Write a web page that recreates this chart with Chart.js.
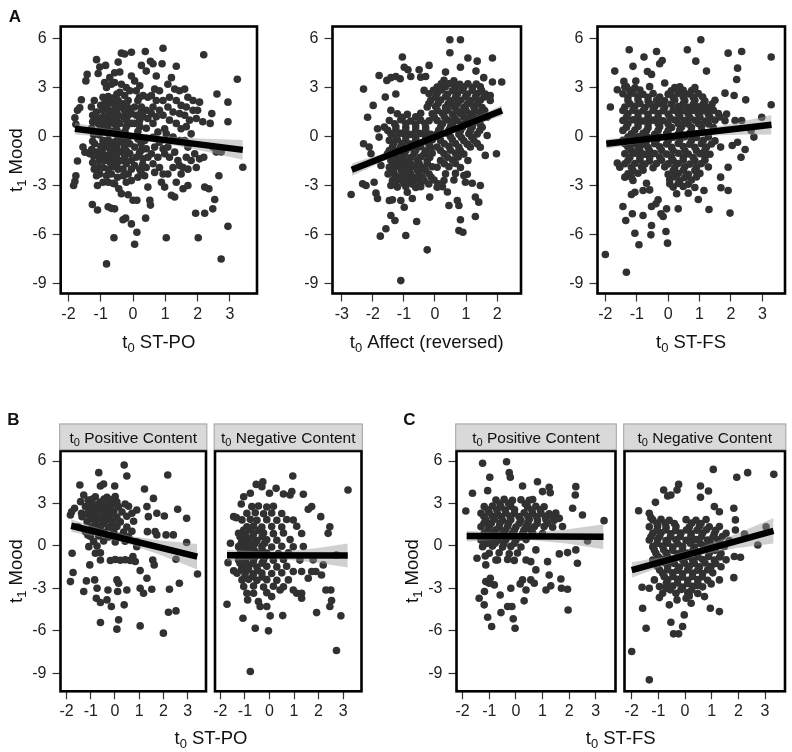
<!DOCTYPE html>
<html>
<head>
<meta charset="utf-8">
<title>t1 Mood by t0 predictors</title>
<script src="https://cdn.jsdelivr.net/npm/chart.js@4.4.1/dist/chart.umd.min.js"></script>
<style>
  html, body { margin: 0; padding: 0; background: #fff; }
  #fig { position: relative; width: 792px; height: 752px; overflow: hidden; background: #fff; }
  #fig canvas { position: absolute; }
</style>
</head>
<body>
<div id="fig"></div>
<script>
// tick labels
const ticksY = [-9, -6, -3, 0, 3, 6];
const ticksX = [-2, -1, 0, 1, 2, 3];
const ticksXAffect = [-3, -2, -1, 0, 1, 2];

// panel A, left: t0 ST-PO vs t1 Mood (all posts)
const stpoAll = [
  [-1.80,1.15],[-1.72,1.60],[-1.65,1.75],[-1.77,0.75],[-1.72,-1.50],[-1.77,-2.40],[-1.84,-3.00],[-1.80,-2.75],[-1.60,2.25],[-1.42,3.80],[-1.46,3.40],[-1.55,-0.65],[-1.49,-0.96],[-1.34,-1.06],
  [-1.13,4.70],[-1.03,4.25],[-1.08,3.85],[-1.20,2.20],[-1.29,1.80],[-1.13,1.50],[-1.19,1.10],[-1.08,0.80],[-1.03,0.40],[-1.19,-0.45],[-1.13,-0.95],[-1.03,-1.30],[-1.08,-1.90],[-1.03,-2.30],[-1.13,-2.40],[-1.10,-3.00],[-1.26,-4.16],[-1.10,-4.50],
  [-0.85,4.35],[-0.82,3.00],[-0.88,3.30],[-0.72,3.60],[-0.67,3.20],[-0.57,3.90],[-0.57,3.30],[-0.93,2.40],[-0.77,2.45],[-0.62,2.35],[-0.88,2.00],[-0.72,2.05],[-0.57,1.95],[-0.93,1.60],[-0.77,1.65],[-0.62,1.55],
  [-0.93,1.20],[-0.77,1.25],[-0.62,1.15],[-0.88,0.80],[-0.72,0.85],[-0.57,0.75],[-0.93,0.40],[-0.77,0.45],[-0.62,0.30],[-0.93,-0.25],[-0.77,-0.20],[-0.62,-0.35],[-0.88,-0.65],[-0.72,-0.75],[-0.57,-0.60],
  [-0.93,-1.06],[-0.77,-1.15],[-0.62,-1.00],[-0.88,-1.47],[-0.72,-1.57],[-0.57,-1.40],[-0.93,-1.90],[-0.77,-2.00],[-0.62,-1.85],[-0.82,-2.40],[-0.67,-2.30],[-0.77,-2.80],[-0.57,-2.90],[-0.93,-2.80],
  [-0.77,-4.30],[-0.67,-4.40],[-0.57,-4.43],[-0.59,-6.20],[-0.82,-7.80],[-0.62,-2.86],[-0.85,1.00],[-0.70,1.40],[-0.80,-0.50],[-0.65,-0.90],[-0.85,2.20],[-0.70,-1.30],[-1.00,1.90],[-1.00,-0.60],
  [-0.36,5.10],[-0.46,4.55],[-0.26,5.05],[-0.41,3.95],[-0.36,3.20],[-0.21,3.00],[-0.41,2.70],[-0.26,2.50],[-0.10,2.80],[-0.46,2.20],[-0.31,2.00],[-0.15,2.20],[-0.41,1.80],[-0.26,1.60],[-0.10,1.70],
  [-0.46,1.30],[-0.31,1.20],[-0.15,1.30],[-0.05,1.40],[-0.41,0.80],[-0.21,0.60],[-0.05,0.80],[-0.36,0.15],[-0.15,-0.05],[-0.41,-0.35],[-0.26,-0.65],[-0.10,-0.45],[-0.41,-0.95],[-0.26,-1.15],[-0.10,-1.05],
  [-0.36,-1.47],[-0.21,-1.67],[-0.05,-1.47],[-0.46,-2.00],[-0.31,-2.00],[-0.15,-2.30],[-0.05,-2.00],[-0.21,-2.80],[-0.05,-2.70],[-0.44,-3.20],[-0.36,-3.50],[-0.15,-3.57],[-0.23,-5.00],[-0.31,-5.10],
  [-0.05,-5.35],[0.00,-3.90],[0.05,-6.60],[0.12,-5.86],[-0.05,5.15],[-0.05,3.70],
  [0.38,5.20],[0.26,4.35],[0.41,4.00],[0.05,3.40],[0.21,3.10],[0.10,2.80],[0.31,2.50],[0.15,2.20],[0.46,2.40],[0.05,1.80],[0.26,1.80],[0.41,1.60],[0.10,1.30],[0.31,1.20],[0.46,1.10],[0.05,0.80],
  [0.21,0.60],[0.41,0.50],[0.15,-0.15],[0.36,-0.25],[0.05,-0.65],[0.26,-0.85],[0.41,-0.75],[0.10,-1.27],[0.31,-1.37],[0.46,-1.27],[0.05,-1.78],[0.21,-2.00],[0.41,-1.90],[0.15,-2.50],[0.36,-2.40],
  [0.12,-3.90],[0.39,-5.00],[0.52,-3.90],[0.54,-4.20],[0.46,-3.10],
  [0.54,4.60],[0.62,4.45],[0.72,3.70],[0.93,5.40],[0.90,4.45],[0.67,2.90],[0.82,2.80],[0.57,2.50],[0.72,2.20],[0.93,2.20],[0.62,1.80],[0.82,1.60],[0.57,1.40],[0.72,1.20],[0.93,1.30],[0.62,0.80],
  [0.98,0.47],[0.77,0.27],[0.62,-0.05],[0.82,-0.35],[0.67,-0.65],[0.93,-0.75],[0.57,-1.06],[0.77,-1.27],[0.98,-1.06],[0.62,-1.67],[0.82,-1.90],[0.67,-2.20],[0.93,-2.30],[0.88,-2.80],[0.98,-3.10],
  [1.34,4.30],[1.19,3.60],[1.08,3.20],[1.29,2.90],[1.44,2.80],[1.13,2.40],[1.34,2.20],[1.49,1.90],[1.08,1.80],[1.24,1.50],[1.44,1.40],[1.13,1.00],[1.34,0.80],[1.49,0.47],[1.03,0.16],[1.24,-0.04],
  [1.44,-0.25],[1.08,-0.65],[1.29,-0.96],[1.13,-1.27],[1.39,-1.47],[1.24,-1.90],[1.44,-1.78],[1.08,-2.30],[1.29,-3.70],[1.19,-3.60],[1.03,-6.20],[1.49,-2.30],[1.34,-2.80],
  [1.60,2.90],[1.70,2.40],[1.86,2.20],[1.65,1.80],[1.86,1.60],[1.60,1.30],[1.75,1.00],[1.96,1.10],[1.65,0.60],[1.80,0.16],[1.60,-0.25],[1.70,-0.65],[1.91,-1.06],[1.65,-1.27],[1.80,-1.47],
  [1.55,-1.90],[1.70,-2.00],[1.96,-1.90],[1.55,-3.20],[1.70,-3.00],[1.94,-4.70],
  [2.06,2.10],[2.00,1.60],[2.16,0.90],[2.39,0.80],[2.44,1.40],[2.60,2.60],[2.94,2.10],[2.94,0.90],[2.47,-0.65],[2.73,-0.95],[2.06,-1.37],[2.19,-1.27],[3.40,-1.88],[2.66,-2.40],[2.35,-3.20],
  [2.22,-3.10],[2.53,-3.86],[2.47,-4.43],[2.22,-4.70],[2.02,-6.20],[2.94,-5.50],[2.73,-7.50],[3.23,3.50],[2.19,5.00],[2.58,-0.95],
  [-1.25,1.30],[-1.25,0.90],[-1.28,0.50],[-1.22,0.10],[-1.25,-0.30],[-1.28,-0.80],[-1.22,-1.20],[-1.25,-1.60],[-1.20,-2.00],
  [-1.05,1.10],[-1.02,0.70],[-1.05,0.10],[-1.00,-1.00],[-1.05,-1.50],
  [-0.50,2.60],[-0.50,1.60],[-0.52,1.00],[-0.50,0.40],[-0.48,-0.20],[-0.50,-0.70],[-0.52,-1.20],[-0.50,-1.70],[-0.48,-2.50],
  [-0.20,1.95],[-0.20,1.00],[-0.25,0.30],[-0.30,-0.30],[-0.20,-0.90],[-0.25,-1.40],[-0.30,-2.40],
  [0.20,2.40],[0.25,1.50],[0.20,0.95],[0.15,0.30],[0.25,-0.45],[0.20,-1.00],[0.30,-1.70],[0.25,-2.20]
];

// panel A, middle: t0 Affect (reversed)
const affectAll = [
  [-2.70,-3.55],[-2.30,2.90],[-2.17,1.18],[-1.99,1.90],[-2.30,-0.45],[-2.33,-2.90],[-2.22,-3.00],[-1.96,-2.80],[-1.90,-3.47],[-1.85,-3.80],[-1.76,-6.10],[-1.58,-5.65],[-1.80,3.73],[-1.55,3.43],
  [-1.42,3.60],[-1.26,3.67],[-1.12,3.53],[-1.05,4.86],[-0.99,4.24],[-1.60,2.41],[-1.42,1.60],[-1.26,2.60],[-1.85,0.47],[-1.80,-0.04],[-2.06,-1.06],[-2.12,-0.65],[-1.74,-1.78],[-1.51,-2.29],
  [-1.42,-3.00],[-1.47,-3.92],[-1.37,-3.88],[-1.42,-4.84],[-1.29,-5.14],[-1.10,-3.92],[-0.99,-4.33],[-0.94,-6.06],[-1.10,-8.82],[-0.73,-3.80],[-0.59,-5.20],[-0.25,-6.94],[-0.17,-3.71],
  [-0.87,4.08],[-0.78,3.67],[-0.51,4.08],[-0.46,3.63],[-0.30,3.67],[-0.19,4.35],[-0.35,2.82],[0.48,5.92],[0.82,5.92],[0.48,5.12],[0.34,3.94],[0.82,4.24],[1.06,4.80],[1.36,4.61],[1.32,4.00],
  [1.85,4.80],[1.57,3.60],[1.85,3.33],[2.15,3.33],[1.78,2.51],[1.78,2.20],[1.68,1.18],[1.68,0.06],[1.62,-1.16],[1.98,-1.06],[1.06,-1.47],[1.46,-3.00],[1.20,-2.86],[0.93,-2.39],[0.98,-2.80],
  [0.45,-4.22],[0.72,-3.92],[0.77,-4.22],[0.82,-5.10],[0.77,-5.76],[0.90,-5.86],[1.30,-4.90],[1.30,-3.71],[1.41,-4.02],
  [-1.21,1.39],[-0.89,1.35],[-0.46,1.42],[-1.47,0.98],[-1.10,1.02],[-0.78,0.95],[-0.46,1.00],[-0.19,0.96],[-1.63,0.57],[-1.26,0.60],[-0.94,0.55],[-0.62,0.58],[-0.30,0.54],
  [-1.42,0.16],[-1.10,0.20],[-0.78,0.12],[-0.46,0.18],[-0.14,0.14],[-1.47,-0.24],[-1.21,-0.20],[-0.94,-0.27],[-0.62,-0.22],[-0.30,-0.26],[-0.09,-0.21],
  [-1.37,-0.65],[-1.10,-0.60],[-0.78,-0.68],[-0.46,-0.63],[-0.14,-0.66],[-1.53,-1.06],[-1.26,-1.02],[-0.99,-1.09],[-0.67,-1.04],[-0.35,-1.08],[-0.09,-1.03],
  [-1.42,-1.47],[-1.15,-1.43],[-0.89,-1.50],[-0.57,-1.45],[-0.25,-1.49],[-1.47,-1.88],[-1.21,-1.84],[-0.94,-1.91],[-0.67,-1.86],[-0.41,-1.90],[-0.09,-1.85],
  [-1.31,-2.29],[-1.05,-2.25],[-0.78,-2.32],[-0.51,-2.27],[-0.19,-2.30],[-1.37,-2.69],[-1.10,-2.65],[-0.83,-2.72],[-0.57,-2.67],[-0.35,-2.70],[-0.03,-2.66],
  [-1.21,-3.10],[-0.94,-3.06],[-0.62,-3.12],[-0.46,-3.08],[0.07,-3.11],[0.24,-3.07],[-0.89,-3.41],[0.40,-3.40],
  [0.29,3.43],[0.61,3.40],[0.07,3.02],[0.34,3.05],[0.66,2.99],[0.93,3.03],[1.20,3.00],[1.46,3.04],[-0.19,2.61],[0.07,2.64],[0.40,2.58],[0.72,2.62],[1.04,2.59],[1.36,2.63],[1.62,2.60],
  [-0.14,2.20],[0.18,2.23],[0.50,2.18],[0.82,2.22],[1.14,2.19],[1.46,2.21],[-0.25,1.80],[0.02,1.83],[0.34,1.78],[0.61,1.82],[0.93,1.79],[1.25,1.81],[1.52,1.77],
  [-0.09,1.39],[0.24,1.42],[0.56,1.37],[0.82,1.41],[1.14,1.38],[1.46,1.40],[0.07,0.98],[0.40,1.01],[0.72,0.96],[1.04,1.00],[1.36,0.97],
  [0.18,0.57],[0.50,0.60],[0.88,0.55],[1.20,0.58],[1.52,0.56],[0.07,0.16],[0.40,0.19],[0.77,0.14],[1.09,0.17],[1.36,0.15],[0.18,-0.24],[0.56,-0.21],[0.93,-0.26],[1.25,-0.23],
  [0.07,-0.65],[0.45,-0.62],[0.77,-0.67],[1.14,-0.64],[1.46,-0.66],[0.29,-1.06],[0.66,-1.03],[0.93,-1.08],[0.18,-1.47],[0.56,-1.44],[0.07,-1.88],[0.45,-1.85],[0.82,-1.90],
  [0.34,-2.29],[0.66,-2.26],[1.04,-2.31],[0.29,-2.69],[0.61,-2.66],
  [-1.05,1.18],[-0.62,1.20],[-1.30,0.78],[-0.94,0.80],[-0.62,0.76],[-0.32,0.79],[-1.52,0.37],[-1.26,0.39],[-0.94,0.35],[-0.62,0.38],[-0.30,0.36],
  [-1.26,-0.04],[-0.94,-0.02],[-0.62,-0.06],[-0.30,-0.03],[-1.34,-0.45],[-1.05,-0.43],[-0.78,-0.47],[-0.46,-0.44],[-0.20,-0.46],
  [-1.47,-0.86],[-1.21,-0.84],[-0.94,-0.88],[-0.62,-0.85],[-0.30,-0.87],[-1.30,-1.27],[-1.05,-1.25],[-0.78,-1.29],[-0.46,-1.26],[-0.17,-1.28],
  [-1.31,-1.67],[-1.05,-1.65],[-0.78,-1.69],[-0.51,-1.66],[-0.25,-1.68],[-1.34,-2.08],[-1.08,-2.06],[-0.83,-2.10],[-0.57,-2.07],[-0.30,-2.09],
  [-1.21,-2.49],[-0.94,-2.47],[-0.67,-2.51],[-0.41,-2.48],[-0.12,-2.50],[-1.26,-2.90],[-1.00,-2.88],[-0.72,-2.92],[-0.46,-2.89],[-0.20,-2.91],[0.10,-2.90],
  [0.20,3.22],[0.48,3.24],[0.80,3.20],[1.06,3.23],[1.33,3.21],[-0.05,2.82],[0.22,2.84],[0.56,2.80],[0.88,2.83],[1.20,2.81],[1.50,2.82],
  [0.02,2.41],[0.34,2.43],[0.66,2.39],[0.98,2.42],[1.30,2.40],[1.58,2.41],[-0.20,2.00],[0.10,2.02],[0.42,1.98],[0.72,2.01],[1.04,1.99],[1.36,2.00],
  [0.08,1.59],[0.40,1.61],[0.72,1.57],[1.00,1.60],[1.30,1.58],[1.60,1.59],[-0.02,1.18],[0.30,1.20],[0.62,1.16],[0.93,1.19],[1.25,1.17],[1.52,1.18],
  [0.24,0.78],[0.56,0.80],[0.88,0.76],[1.20,0.79],[1.45,0.77],[0.12,0.37],[0.45,0.39],[0.82,0.35],[1.14,0.38],[1.44,0.36],
  [0.12,-0.04],[0.50,-0.02],[0.85,-0.06],[1.18,-0.03],[0.30,-0.45],[0.66,-0.43],[1.04,-0.47],[1.36,-0.44],
  [0.18,-0.86],[0.50,-0.84],[0.82,-0.88],[0.40,-1.27],[0.75,-1.25],[0.30,-1.67],[0.66,-1.65]
];

// panel A, right: t0 ST-FS
const stfsAll = [
  [-2.00,-7.22],[-1.33,-8.31],[-1.84,1.80],[-1.70,4.00],[-1.62,2.86],[-1.24,5.31],[-1.12,4.29],[-0.77,4.86],[-0.37,5.20],[-0.66,3.98],[-0.53,3.80],[-0.27,4.45],[-0.19,4.65],[-0.11,3.27],
  [0.61,5.31],[0.88,4.61],[1.04,5.92],[1.22,4.00],[1.91,5.10],[2.34,5.20],[2.21,4.18],[2.18,3.49],[2.47,2.24],[2.10,2.51],[1.81,2.65],[3.28,4.86],[3.28,1.94],[2.98,1.18],[2.73,-0.04],
  [2.45,-0.80],[2.32,-1.27],[2.21,-0.35],[2.04,-0.55],[1.67,-0.65],[1.91,-1.88],[1.67,-2.49],[1.91,-3.31],[1.68,-3.14],[1.97,-4.69],[1.30,-4.47],[0.96,-3.86],[1.14,-3.31],[0.32,-4.43],
  [-0.02,-6.53],[-0.07,-5.82],[-0.16,-4.90],[-0.23,-4.73],[-0.05,-4.43],[-0.39,-4.12],[-0.32,-3.88],[-0.53,-5.45],[-0.55,-6.02],[-0.93,-6.63],[-1.06,-5.92],[-1.14,-4.73],[-1.44,-4.29],
  [-1.35,-5.14],[-0.80,-4.84],[-0.53,-4.29],[-0.69,-2.86],[-0.59,-3.27],[-0.80,-3.31],[-1.06,-3.41],[-1.17,-3.55],[-1.38,-2.49],[-1.62,-1.63],[-1.54,-1.88],[-1.41,3.37],[-1.33,3.06],[-1.03,3.39],
  [2.13,0.98],[2.64,0.37],[2.34,0.98],
  [-1.38,3.02],[-1.06,2.98],[-0.59,3.05],[0.21,3.00],[0.37,3.04],[0.85,2.99],
  [-1.44,2.61],[-1.12,2.65],[-0.80,2.58],[-0.48,2.63],[0.00,2.59],[0.32,2.64],[0.64,2.60],[0.96,2.62],
  [-1.28,2.20],[-0.96,2.24],[-0.64,2.17],[-0.37,2.22],[-0.11,2.18],[0.21,2.23],[0.53,2.19],[0.85,2.21],[1.17,2.17],[1.49,2.22],
  [-1.38,1.80],[-1.06,1.84],[-0.74,1.77],[-0.43,1.82],[-0.11,1.79],[0.32,1.83],[0.64,1.78],[0.96,1.81],[1.28,1.77],
  [-1.28,1.39],[-0.96,1.43],[-0.64,1.36],[-0.32,1.41],[0.00,1.37],[0.32,1.42],[0.64,1.38],[0.96,1.40],[1.28,1.36],[1.60,1.41],[1.86,1.37],
  [-1.44,0.98],[-1.12,1.02],[-0.80,0.95],[-0.48,1.00],[-0.16,0.96],[0.21,1.01],[0.53,0.97],[0.85,0.99],[1.17,0.95],[1.49,1.00],[1.81,0.96],
  [-1.33,0.57],[-0.96,0.61],[-0.64,0.54],[-0.27,0.59],[0.11,0.55],[0.43,0.60],[0.74,0.56],[1.06,0.58],[1.44,0.54],
  [-1.17,0.16],[-0.80,0.20],[-0.43,0.13],[-0.05,0.18],[0.32,0.14],[0.69,0.19],
  [-1.44,-0.24],[-1.06,-0.20],[-0.69,-0.27],[-0.37,-0.22],[0.00,-0.26],[0.37,-0.21],[0.74,-0.25],[1.12,-0.23],[1.49,-0.27],
  [-1.28,-0.65],[-0.96,-0.61],[-0.64,-0.68],[-0.27,-0.63],[0.11,-0.67],[0.48,-0.62],[0.85,-0.66],[1.22,-0.64],
  [-1.38,-1.06],[-1.06,-1.02],[-0.74,-1.09],[-0.43,-1.04],[-0.05,-1.08],[0.32,-1.03],[0.64,-1.07],[1.01,-1.05],[1.33,-1.09],
  [-1.28,-1.47],[-0.90,-1.43],[-0.59,-1.50],[-0.21,-1.45],[0.16,-1.49],[0.48,-1.44],[0.85,-1.48],[1.17,-1.46],
  [-1.17,-1.88],[-0.85,-1.84],[-0.48,-1.91],[-0.11,-1.86],[0.21,-1.90],[0.53,-1.85],[0.90,-1.89],[1.28,-1.87],
  [-1.28,-2.29],[-0.96,-2.25],[0.00,-2.32],[0.32,-2.27],[0.64,-2.31],[1.01,-2.26],
  [-1.12,-2.69],[0.05,-2.65],[0.37,-2.72],[0.74,-2.67],[0.16,-3.10],[0.48,-3.06],[0.85,-3.12],[0.27,-3.51],[0.64,-3.47],
  [-1.22,2.82],[-0.90,2.84],[0.10,2.80],[0.48,2.83],[0.75,2.81],
  [-1.28,2.41],[-0.96,2.43],[-0.64,2.39],[-0.27,2.42],[0.16,2.40],[0.48,2.42],[0.80,2.38],[1.10,2.41],
  [-1.22,2.00],[-0.90,2.02],[-0.58,1.98],[-0.27,2.01],[0.10,1.99],[0.48,2.01],[0.80,1.97],[1.12,2.00],[1.40,1.98],
  [-1.44,1.59],[-1.12,1.61],[-0.80,1.57],[-0.48,1.60],[-0.16,1.58],[0.16,1.61],[0.48,1.57],[0.80,1.60],[1.12,1.58],[1.44,1.60],
  [-1.33,1.18],[-0.96,1.20],[-0.64,1.16],[-0.32,1.19],[0.05,1.17],[0.37,1.20],[0.69,1.16],[1.01,1.19],[1.33,1.17],[1.65,1.19],
  [-1.28,0.78],[-0.96,0.80],[-0.64,0.76],[-0.32,0.79],[0.00,0.77],[0.32,0.80],[0.64,0.76],[0.96,0.79],[1.28,0.77],
  [-1.44,0.37],[-1.06,0.39],[-0.69,0.35],[-0.32,0.38],[0.00,0.36],[0.37,0.39],[0.74,0.35],
  [-1.28,-0.04],[-0.96,-0.02],[-0.64,-0.06],[-0.27,-0.03],[0.16,-0.05],[0.53,-0.02],[0.90,-0.06],[1.28,-0.03],
  [-1.38,-0.45],[-1.12,-0.43],[-0.80,-0.47],[-0.43,-0.44],[-0.05,-0.46],[0.32,-0.43],[0.69,-0.47],[1.06,-0.44],[1.38,-0.46],
  [-1.17,-0.86],[-0.90,-0.84],[-0.59,-0.88],[-0.21,-0.85],[0.16,-0.87],[0.53,-0.84],[0.90,-0.88],[1.17,-0.85],
  [-1.22,-1.27],[-0.90,-1.25],[-0.59,-1.29],[-0.27,-1.26],[0.11,-1.28],[0.48,-1.25],[0.80,-1.29],[1.17,-1.26],
  [-1.38,-1.67],[-1.06,-1.65],[-0.74,-1.69],[-0.37,-1.66],[0.00,-1.68],[0.32,-1.65],[0.69,-1.69],[1.06,-1.66],
  [-1.12,-2.08],[-0.80,-2.06],[0.16,-2.10],[0.48,-2.07],[0.85,-2.09],[-1.17,-2.49],[0.21,-2.47],[0.53,-2.51],[0.90,-2.48],
  [0.05,-2.90],[0.32,-2.88],[0.64,-2.92]
];

// panel B: t0 ST-PO, split by post content
const stpoPos = [
  [0.38,5.72],[-0.67,5.18],[0.49,4.94],[2.18,5.01],[-1.45,4.31],[-0.60,4.24],[-0.47,4.38],[-0.01,4.24],[1.22,4.02],[-1.29,3.60],[-1.11,3.25],[-1.84,2.19],[-1.79,2.42],[-1.67,2.66],
  [-1.38,2.31],[1.59,3.36],[1.32,2.78],[0.90,2.54],[0.70,2.31],[0.42,2.96],[1.38,2.07],[1.73,2.31],[2.04,2.12],[2.59,2.59],[2.96,1.95],[2.96,0.24],[2.52,-0.94],[3.41,-1.98],[2.66,-2.64],
  [2.25,-3.06],[2.52,-4.59],[2.21,-4.68],[2.00,-6.16],[1.04,-5.65],[0.15,-5.22],[0.08,-5.88],[-0.60,-5.41],[-1.84,-2.52],[-1.73,-1.88],[-1.77,-0.52],[-1.29,-3.22],[-1.18,-2.47],[-1.04,-1.34],
  [-0.84,-2.40],[-0.74,-2.99],[-0.77,-3.69],[-0.60,-4.00],[-0.33,-3.81],[-0.29,-3.11],[-0.15,-4.28],[0.08,-2.40],[0.15,-2.64],[0.11,-3.22],[0.49,-3.11],[0.38,-4.16],[1.04,-2.99],[1.18,-3.34],
  [1.32,-2.28],[1.52,-3.06],[1.56,-0.99],[1.62,-1.34],[1.04,-1.74],[0.74,-0.75],[0.90,-0.05],[1.34,1.01],[1.66,1.01],[1.73,0.78],[2.11,0.78],[2.41,0.78],[-1.53,1.36],[-1.12,0.78],[0.84,-1.10],
  [-0.81,3.48],[-0.33,3.44],[0.01,3.50],[-1.42,3.13],[-1.01,3.17],[-0.60,3.10],[-0.26,3.15],[0.08,3.11],[-1.22,2.78],[-0.81,2.82],[-0.53,2.75],[-0.19,2.80],[0.15,2.76],[0.56,2.81],
  [-1.08,2.42],[-0.74,2.46],[-0.40,2.39],[-0.05,2.44],[0.29,2.40],[-1.36,2.07],[-0.95,2.11],[-0.60,2.04],[-0.26,2.09],[0.08,2.05],[0.49,2.10],
  [-1.15,1.72],[-0.81,1.76],[-0.47,1.69],[-0.12,1.74],[0.22,1.70],[0.77,1.75],[-0.95,1.36],[-0.60,1.40],[-0.26,1.33],[0.08,1.38],[0.49,1.34],
  [-1.22,1.01],[-0.81,1.05],[-0.47,0.98],[-0.05,1.03],[0.36,0.99],[0.70,1.04],[-1.01,0.66],[-0.67,0.70],[-0.26,0.63],[0.15,0.68],[0.56,0.64],
  [-0.88,0.31],[-0.47,0.35],[0.01,0.28],[0.42,0.33],[0.90,0.29],[-1.08,-0.05],[-0.74,-0.01],[-0.81,-0.52],[-0.60,-0.48],
  [-0.60,-0.99],[-0.19,-1.03],[0.01,-0.96],[0.22,-1.01],[0.42,-0.97],[0.63,-1.02],
  [-0.95,3.30],[-0.45,3.32],[-0.10,3.28],[-1.05,2.95],[-0.70,2.97],[-0.35,2.93],[0.00,2.96],[-0.95,2.60],[-0.60,2.62],[-0.25,2.58],
  [-1.15,2.25],[-0.80,2.27],[-0.45,2.23],[-0.10,2.26],[-1.00,1.90],[-0.65,1.92],[-0.30,1.88],[0.05,1.91],[-0.80,1.55],[-0.45,1.57],[-0.10,1.53]
];
const stpoNeg = [
  [-1.73,-4.12],[-1.69,-1.18],[-1.46,-1.76],[-1.35,2.00],[-1.05,3.48],[-1.15,2.96],[-0.78,3.72],[-0.54,4.35],[-0.27,4.54],[-0.31,4.19],[0.00,3.72],[0.27,4.07],[0.57,3.67],[0.84,3.60],
  [0.95,4.94],[0.91,3.84],[1.38,3.65],[1.58,2.59],[1.72,2.78],[2.09,2.07],[2.46,1.36],[2.39,0.89],[3.20,3.95],[2.73,-0.64],[2.19,-1.34],[2.12,-2.05],[1.89,-1.81],[2.30,-3.11],[2.50,-3.11],
  [2.46,-4.28],[2.53,-3.86],[2.91,-4.94],[2.73,-7.39],[1.92,-4.71],[1.31,-3.69],[1.31,-3.34],[0.54,-4.92],[0.03,-4.94],[-0.04,-6.00],[-0.58,-5.81],[-1.08,-5.11],[-0.78,-8.87],[-0.89,-3.81],
  [-0.65,-3.34],[-0.45,-3.93],[-0.38,-4.28],[-0.11,-4.28],[0.09,-3.58],[0.43,-3.11],[0.77,-2.40],[0.97,-3.11],[1.11,-3.34],[0.97,-1.81],[1.31,-1.81],[1.58,-2.28],[1.72,-1.81],[-1.46,2.07],[-1.59,0.19],
  [-0.72,2.78],[-0.45,2.82],[-0.11,2.75],[0.16,2.80],[-0.92,2.31],[-0.58,2.35],[-0.24,2.28],[0.09,2.33],[0.50,2.29],
  [-1.12,1.84],[-0.78,1.88],[-0.51,1.81],[-0.11,1.86],[0.30,1.82],[0.70,1.87],[0.97,1.83],[-0.92,1.36],[-0.65,1.40],[-0.31,1.33],[0.09,1.38],[0.50,1.34],[1.11,1.39],
  [-1.26,0.89],[-0.99,0.93],[-0.65,0.86],[-0.24,0.91],[0.16,0.87],[0.57,0.92],[1.31,0.88],[-1.12,0.42],[-0.85,0.46],[-0.51,0.39],[-0.11,0.44],[0.30,0.40],[0.84,0.45],
  [-1.26,-0.05],[-0.99,-0.01],[-0.72,-0.08],[-0.31,-0.03],[0.09,-0.07],[0.50,-0.02],[0.97,-0.06],[1.38,-0.04],[-1.12,-0.52],[-0.85,-0.48],[-0.51,-0.55],[-0.11,-0.50],[0.36,-0.54],[0.77,-0.49],
  [-1.26,-0.99],[-0.99,-0.95],[-0.65,-1.02],[-0.24,-0.97],[0.16,-1.01],[0.57,-0.96],[1.24,-1.00],[1.78,-0.98],[-1.12,-1.46],[-0.85,-1.42],[-0.51,-1.49],[-0.11,-1.44],[0.30,-1.48],[0.70,-1.43],
  [-1.32,-1.93],[-0.99,-1.89],[-0.65,-1.96],[-0.31,-1.91],[0.09,-1.95],[0.50,-1.90],[-1.12,-2.40],[-0.85,-2.36],[-0.51,-2.43],[-0.11,-2.38],[0.30,-2.42],
  [-1.05,-2.87],[-0.65,-2.83],[-0.24,-2.90],[0.16,-2.85],[0.57,-2.89],[-0.92,-3.34],[-0.11,-3.30],
  [-1.05,1.12],[-0.80,1.14],[-0.45,1.10],[-1.20,0.65],[-0.95,0.67],[-0.68,0.63],[-0.30,0.66],[-1.15,0.18],[-0.88,0.20],[-0.60,0.16],[-0.20,0.19],
  [-1.18,-0.29],[-0.92,-0.27],[-0.62,-0.31],[-0.30,-0.28],[-1.18,-0.76],[-0.90,-0.74],[-0.60,-0.78],[-0.18,-0.75],
  [-1.20,-1.22],[-0.95,-1.20],[-0.68,-1.24],[-0.30,-1.21],[-1.15,-1.70],[-0.85,-1.68],[-0.48,-1.72],[-1.00,-2.17],[-0.68,-2.15],[-0.30,-2.19]
];

// panel C: t0 ST-FS, split by post content
const stfsPos = [
  [-1.88,2.47],[-1.63,3.72],[-1.25,5.84],[-0.98,4.85],[-1.06,3.91],[-0.35,5.95],[-0.25,5.18],[-0.21,4.85],[0.25,4.24],[0.81,4.54],[1.00,3.84],[1.25,4.14],[1.29,3.76],[2.25,4.19],
  [2.23,3.60],[2.13,2.66],[2.50,2.19],[3.31,1.79],[1.63,1.95],[2.69,0.35],[2.31,-1.22],[2.25,-0.28],[1.94,-0.47],[1.63,-0.56],[1.69,-2.33],[1.71,-2.99],[1.94,-3.06],[1.96,-4.52],
  [1.31,-2.82],[1.13,-3.11],[1.25,-2.05],[1.19,-1.11],[0.75,-0.28],[0.75,-1.69],[0.56,-1.11],[0.38,-0.99],[0.56,-2.40],[0.69,-2.64],[0.25,-2.40],[0.16,-2.68],[0.38,-3.11],[0.31,-3.88],
  [-0.19,-2.99],[-0.31,-4.28],[-0.15,-4.28],[-0.10,-5.15],[-0.03,-5.81],[-0.56,-4.71],[-0.59,-3.46],[-0.81,-2.75],[-1.00,-2.64],[-1.13,-2.52],[-0.96,-2.28],[-1.18,-3.22],[-1.38,-3.69],
  [-1.19,-4.16],[-1.06,-5.04],[-0.91,-5.69],[-1.46,-0.87],[-1.15,-0.71],[-1.13,-1.34],[-0.69,-0.99],
  [-0.75,3.25],[-0.44,3.29],[-0.13,3.22],[0.19,3.27],[0.50,3.23],[0.63,3.28],[-1.19,2.78],[-0.88,2.82],[-0.56,2.75],[-0.19,2.80],[0.44,2.76],[0.75,2.81],[1.06,2.77],
  [-1.31,2.31],[-1.00,2.35],[-0.69,2.28],[-0.38,2.33],[-0.06,2.29],[0.31,2.34],[0.63,2.30],[0.94,2.32],[1.25,2.28],[1.50,2.33],
  [-1.13,1.84],[-0.81,1.88],[-0.50,1.81],[-0.19,1.86],[0.19,1.82],[0.50,1.87],[0.81,1.83],[1.13,1.85],[1.44,1.81],
  [-1.31,1.36],[-1.00,1.40],[-0.63,1.33],[-0.31,1.38],[0.00,1.34],[0.38,1.39],[0.69,1.35],[1.06,1.37],[1.38,1.33],[1.75,1.38],
  [-1.19,0.89],[-0.88,0.93],[-0.50,0.86],[-0.13,0.91],[0.25,0.87],[0.63,0.92],[1.00,0.88],[-1.31,0.42],[-1.00,0.46],[-0.69,0.39],[-0.38,0.44],[0.00,0.40],[0.38,0.45],
  [-1.25,-0.05],[-0.88,-0.01],[-0.50,-0.08],[-0.19,-0.03],[0.19,-0.07],[-1.00,-0.52],[-0.63,-0.48],[-0.25,-0.55],[0.06,-0.50],[-0.75,-0.99],[-0.31,-0.95],[-0.06,-1.02],
  [-0.60,3.00],[-0.28,3.02],[0.35,2.98],[-1.05,2.55],[-0.72,2.57],[-0.40,2.53],[-0.05,2.56],[0.60,2.54],[0.92,2.56],
  [-1.20,2.08],[-0.88,2.10],[-0.55,2.06],[-0.22,2.09],[0.12,2.07],[0.45,2.10],[0.78,2.06],[1.10,2.09],[1.38,2.07],
  [-1.20,1.60],[-0.92,1.62],[-0.60,1.58],[-0.28,1.61],[0.12,1.59],[0.45,1.62],[0.80,1.58],[1.20,1.61],
  [-1.05,1.12],[-0.75,1.14],[-0.40,1.10],[-0.05,1.13],[0.30,1.11],[0.55,1.14],[-1.15,0.65],[-0.82,0.67],[-0.52,0.63],[-0.20,0.66],[0.18,0.64],
  [-1.10,0.18],[-0.78,0.20],[-0.45,0.16],[-0.05,0.19]
];
const stfsNeg = [
  [-2.00,-7.46],[-1.34,-9.46],[-1.46,-5.81],[-1.59,-4.40],[-1.61,-2.92],[-1.74,2.49],[-1.34,2.31],[-1.11,3.08],[-1.28,2.00],[-0.80,3.95],[-0.65,3.53],[-0.53,3.60],[-0.24,4.35],[-0.30,3.95],
  [0.58,4.24],[0.88,3.88],[1.06,5.41],[1.94,4.85],[2.35,5.18],[3.33,5.06],[0.58,3.44],[1.10,2.78],[1.29,2.42],[1.83,2.66],[1.89,1.84],[1.89,1.13],[2.23,0.85],[2.73,0.07],[3.04,1.36],
  [1.85,-0.75],[2.08,-0.80],[1.83,-2.24],[1.29,-2.40],[0.98,-2.68],[0.95,-4.40],[1.29,-4.64],[0.73,-3.58],[0.48,-2.80],[0.16,-3.53],[0.23,-4.05],[0.04,-3.69],[-0.03,-4.87],[-0.09,-5.69],
  [-0.24,-6.21],[-0.43,-6.21],[-0.53,-5.39],[-0.30,-3.81],[-0.59,-4.16],[-0.84,-3.34],[-0.96,-3.65],[-1.34,-2.99],[-1.15,-2.40],[-0.71,-2.99],
  [-1.21,1.84],[-0.90,1.88],[-0.59,1.81],[0.04,1.86],[0.41,1.82],[0.79,1.87],[-1.34,1.36],[-1.03,1.40],[-0.71,1.33],[-0.34,1.38],[0.16,1.34],[0.54,1.39],[0.91,1.35],[1.29,1.37],
  [-1.21,0.89],[-0.90,0.93],[-0.53,0.86],[-0.15,0.91],[0.23,0.87],[0.66,0.92],[1.10,0.88],[1.54,0.90],
  [-1.34,0.42],[-1.03,0.46],[-0.71,0.39],[-0.34,0.44],[0.04,0.40],[0.41,0.45],[0.85,0.41],[1.23,0.43],[1.66,0.39],
  [-1.21,-0.05],[-0.84,-0.01],[-0.46,-0.08],[-0.09,-0.03],[0.35,-0.07],[0.73,-0.02],[1.10,-0.06],[1.48,-0.04],
  [-1.09,-0.52],[-0.71,-0.48],[-0.28,-0.55],[0.10,-0.50],[0.48,-0.54],[0.91,-0.49],[1.35,-0.53],
  [-1.21,-0.99],[-0.84,-0.95],[-0.46,-1.02],[-0.09,-0.97],[0.29,-1.01],[0.66,-0.96],[1.10,-1.00],[1.54,-0.98],
  [-1.03,-1.46],[-0.65,-1.42],[-0.21,-1.49],[0.16,-1.44],[0.54,-1.48],[0.98,-1.43],[1.35,-1.47],
  [-0.84,-1.93],[-0.46,-1.89],[-0.09,-1.96],[0.29,-1.91],[0.66,-1.95],[1.04,-1.90],[-0.65,-2.40],[-0.28,-2.36],[0.10,-2.43],[0.48,-2.38],[0.85,-2.42],
  [-0.96,-2.87],[-0.46,-2.83],[-0.09,-2.90],[0.29,-2.85],[0.66,-2.89],[-0.34,-3.34],[0.10,-3.30],[0.48,-3.36],
  [-1.05,1.60],[-0.75,1.62],[-0.40,1.58],[0.25,1.61],[0.60,1.59],[-1.05,1.12],[-0.72,1.14],[-0.35,1.10],[0.05,1.13],[0.45,1.11],[0.80,1.14],[1.15,1.10],
  [-1.28,0.65],[-0.95,0.67],[-0.55,0.63],[-0.18,0.66],[0.22,0.64],[0.62,0.67],[1.05,0.63],[1.40,0.66],
  [-1.05,0.18],[-0.65,0.20],[-0.28,0.16],[0.20,0.19],[0.58,0.17],[0.95,0.20],[1.35,0.16],
  [-1.15,-0.29],[-0.80,-0.27],[-0.46,-0.31],[-0.10,-0.28],[0.30,-0.30],[0.70,-0.27],[1.12,-0.31],
  [-1.00,-0.76],[-0.65,-0.74],[-0.28,-0.78],[0.10,-0.75],[0.48,-0.77],[0.88,-0.74],[1.30,-0.78],
  [-1.10,-1.22],[-0.75,-1.20],[-0.40,-1.24],[-0.02,-1.21],[0.35,-1.23],[0.75,-1.20],[1.15,-1.24],
  [-0.95,-1.70],[-0.65,-1.68],[-0.28,-1.72],[0.10,-1.69],[0.48,-1.71],[0.85,-1.68],
  [-0.78,-2.17],[-0.45,-2.15],[-0.10,-2.19],[0.28,-2.16],[0.65,-2.18],[-0.70,-2.63],[-0.28,-2.61],[0.10,-2.65],[0.48,-2.62],
  [-0.55,-3.10],[-0.15,-3.08],[0.25,-3.12]
];

// fitted lines (ends) and confidence bands
const fitStpoAll = [[-1.80, 0.47], [3.40, -0.82]];
const bandStpoAllX = [-1.80, -0.80, 0.20, 1.20, 2.20, 3.40];
const bandStpoAllHi = [0.82, 0.47, 0.17, -0.02, -0.14, -0.22];
const bandStpoAllLo = [0.12, -0.03, -0.23, -0.52, -0.90, -1.42];

const fitAffectAll = [[-2.68, -2.04], [2.16, 1.59]];
const bandAffectAllX = [-2.68, -1.50, -0.30, 0.90, 2.16];
const bandAffectAllHi = [-1.66, -0.94, -0.11, 0.84, 1.91];
const bandAffectAllLo = [-2.42, -1.38, -0.41, 0.44, 1.27];

const fitStfsAll = [[-1.97, -0.45], [3.29, 0.72]];
const bandStfsAllX = [-1.97, -0.90, 0.15, 1.20, 2.25, 3.29];
const bandStfsAllHi = [-0.15, -0.01, 0.19, 0.48, 0.87, 1.32];
const bandStfsAllLo = [-0.75, -0.41, -0.15, 0.04, 0.11, 0.12];

const fitStpoPos = [[-1.81, 1.43], [3.40, -0.76]];
const bandStpoPosX = [-1.81, -0.60, 0.60, 1.80, 3.40];
const bandStpoPosHi = [1.88, 1.22, 0.72, 0.41, 0.14];
const bandStpoPosLo = [0.98, 0.62, 0.12, -0.59, -1.66];

const fitStpoNeg = [[-1.73, -0.66], [3.19, -0.68]];
const bandStpoNegX = [-1.73, -0.50, 0.70, 1.90, 3.19];
const bandStpoNegHi = [-0.26, -0.38, -0.37, -0.17, 0.17];
const bandStpoNegLo = [-1.06, -0.94, -0.97, -1.17, -1.53];

const fitStfsPos = [[-1.85, 0.70], [3.29, 0.65]];
const bandStfsPosX = [-1.85, -0.60, 0.60, 1.90, 3.29];
const bandStfsPosHi = [1.08, 0.94, 0.96, 1.17, 1.53];
const bandStfsPosLo = [0.32, 0.44, 0.40, 0.17, -0.23];

const fitStfsNeg = [[-2.00, -1.70], [3.32, 1.07]];
const bandStfsNegX = [-2.00, -0.70, 0.50, 1.90, 3.32];
const bandStfsNegHi = [-1.15, -0.72, -0.12, 0.83, 1.97];
const bandStfsNegLo = [-2.25, -1.32, -0.68, -0.17, 0.17];

const FONT = '"Liberation Sans", Arial, Helvetica, sans-serif';
const T1_MOOD = [['t', 0], ['1', 1], [' Mood', 0]];

function toXY(pairs) {
    return pairs.map(p => ({ x: p[0], y: p[1] }));
}
function zip(xs, ys) {
    return xs.map((x, i) => [x, ys[i]]);
}

// text with a subscript part, centred on (x, y)
function drawRich(ctx, x, y, parts, size, rot, bold) {
    const big = (bold ? 'bold ' : '') + size + 'px ' + FONT;
    const small = Math.round(size * 0.7) + 'px ' + FONT;
    ctx.save();
    ctx.translate(x, y);
    if (rot) ctx.rotate(rot);
    ctx.fillStyle = '#111';
    ctx.textBaseline = 'alphabetic';
    ctx.textAlign = 'left';
    let w = 0;
    parts.forEach(p => { ctx.font = p[1] ? small : big; w += ctx.measureText(p[0]).width; });
    let cx = -w / 2;
    const base = size * 0.36;
    parts.forEach(p => {
        ctx.font = p[1] ? small : big;
        ctx.fillText(p[0], cx, base + (p[1] ? size * 0.22 : 0));
        cx += ctx.measureText(p[0]).width;
    });
    ctx.restore();
}

// frame around the panel, facet strip, titles
const panelDeco = {
    id: 'panelDeco',
    afterDatasetsDraw(chart) {
        const a = chart.chartArea, ctx = chart.ctx;
        ctx.save();
        ctx.lineWidth = 2.6;
        ctx.strokeStyle = '#000';
        ctx.strokeRect(a.left, a.top, a.right - a.left, a.bottom - a.top);
        ctx.restore();
    },
    afterDraw(chart, args, o) {
        const a = chart.chartArea, ctx = chart.ctx;
        if (o.strip) {
            const top = a.top - 27.5, h = 26.2;
            ctx.save();
            ctx.fillStyle = '#d9d9d9';
            ctx.fillRect(a.left - 1.3, top, a.right - a.left + 2.6, h);
            ctx.strokeStyle = '#a6a6a6';
            ctx.lineWidth = 1;
            ctx.strokeRect(a.left - 0.8, top + 0.5, a.right - a.left + 1.6, h - 0.5);
            ctx.restore();
            drawRich(ctx, (a.left + a.right) / 2, top + h / 2 + 0.5, o.strip, 15.5, 0, false);
        }
        (o.texts || []).forEach(t => drawRich(ctx, t.x - o.ox, t.y - o.oy, t.parts, t.size, t.rot, t.bold));
    }
};

function makePanel(cfg) {
    const b = cfg.box, a = cfg.area;
    const showY = cfg.showY !== false;
    const cv = document.createElement('canvas');
    cv.width = b.w;
    cv.height = b.h;
    cv.style.left = b.x + 'px';
    cv.style.top = b.y + 'px';
    cv.style.width = b.w + 'px';
    cv.style.height = b.h + 'px';
    document.getElementById('fig').appendChild(cv);

    const tickFont = { family: FONT, size: 16 };
    const grid = { drawOnChartArea: false, drawTicks: true, tickLength: 8, tickColor: '#333', tickWidth: 1.2 };

    return new Chart(cv, {
        type: 'scatter',
        data: {
            datasets: [
                { data: toXY(cfg.fit), showLine: true, borderColor: '#000', borderWidth: 6.5, borderCapStyle: 'butt', pointRadius: 0, order: 0 },
                { data: toXY(zip(cfg.bandX, cfg.bandHi)), showLine: true, borderColor: 'rgba(0,0,0,0)', pointRadius: 0, fill: '+1', backgroundColor: 'rgba(150,150,150,0.45)', order: 1 },
                { data: toXY(zip(cfg.bandX, cfg.bandLo)), showLine: true, borderColor: 'rgba(0,0,0,0)', pointRadius: 0, fill: false, order: 2 },
                { data: toXY(cfg.points), pointRadius: 3.8, pointBackgroundColor: '#313131', pointBorderWidth: 0, order: 3 }
            ]
        },
        plugins: [panelDeco],
        options: {
            responsive: false,
            animation: false,
            devicePixelRatio: 1,
            events: [],
            layout: {
                padding: { top: a.t - b.y, right: b.x + b.w - a.r, bottom: 0, left: showY ? 0 : a.l - b.x }
            },
            plugins: {
                legend: { display: false },
                tooltip: { enabled: false },
                panelDeco: { strip: cfg.strip, texts: cfg.texts, ox: b.x, oy: b.y }
            },
            scales: {
                x: {
                    type: 'linear', min: cfg.xr[0], max: cfg.xr[1],
                    afterBuildTicks: s => { s.ticks = cfg.xt.map(v => ({ value: v })); },
                    afterFit: s => { s.height = b.y + b.h - a.b; s.paddingLeft = 0; s.paddingRight = 0; },
                    ticks: { font: tickFont, color: '#222', padding: 3, maxRotation: 0, autoSkip: false, callback: v => String(v) },
                    grid: grid,
                    border: { display: false }
                },
                y: {
                    type: 'linear', display: showY, min: cfg.yr[0], max: cfg.yr[1],
                    afterBuildTicks: s => { s.ticks = ticksY.map(v => ({ value: v })); },
                    afterFit: s => { if (showY) s.width = a.l - b.x; s.paddingTop = 0; s.paddingBottom = 0; },
                    ticks: { font: tickFont, color: '#222', padding: 6, autoSkip: false, callback: v => String(v) },
                    grid: grid,
                    border: { display: false }
                }
            }
        }
    });
}

const yTop = [-9.61, 6.73];
const yBottom = [-10.27, 6.71];
const POS = [['t', 0], ['0', 1], [' Positive Content', 0]];
const NEG = [['t', 0], ['0', 1], [' Negative Content', 0]];

makePanel({
    box: { x: 0, y: 0, w: 264, h: 360 }, area: { l: 60.7, t: 26.5, r: 257, b: 293.5 },
    xr: [-2.24, 3.84], yr: yTop, xt: ticksX,
    points: stpoAll, fit: fitStpoAll, bandX: bandStpoAllX, bandHi: bandStpoAllHi, bandLo: bandStpoAllLo,
    texts: [
        { x: 15, y: 16, parts: [['A', 0]], size: 17, bold: true },
        { x: 15, y: 160, parts: T1_MOOD, size: 18.5, rot: -Math.PI / 2 },
        { x: 158.8, y: 341, parts: [['t', 0], ['0', 1], [' ST-PO', 0]], size: 18.5 }
    ]
});
makePanel({
    box: { x: 264, y: 0, w: 264, h: 360 }, area: { l: 332.5, t: 26.5, r: 521, b: 293.5 },
    xr: [-3.3, 2.77], yr: yTop, xt: ticksXAffect,
    points: affectAll, fit: fitAffectAll, bandX: bandAffectAllX, bandHi: bandAffectAllHi, bandLo: bandAffectAllLo,
    texts: [
        { x: 426.7, y: 341, parts: [['t', 0], ['0', 1], [' Affect (reversed)', 0]], size: 18.5 }
    ]
});
makePanel({
    box: { x: 528, y: 0, w: 264, h: 360 }, area: { l: 597.5, t: 26.5, r: 785, b: 293.5 },
    xr: [-2.25, 3.72], yr: yTop, xt: ticksX,
    points: stfsAll, fit: fitStfsAll, bandX: bandStfsAllX, bandHi: bandStfsAllHi, bandLo: bandStfsAllLo,
    texts: [
        { x: 691, y: 341, parts: [['t', 0], ['0', 1], [' ST-FS', 0]], size: 18.5 }
    ]
});

makePanel({
    box: { x: 0, y: 380, w: 396, h: 372 }, area: { l: 60.5, t: 451, r: 206, b: 691.3 },
    xr: [-2.25, 3.76], yr: yBottom, xt: ticksX, strip: POS,
    points: stpoPos, fit: fitStpoPos, bandX: bandStpoPosX, bandHi: bandStpoPosHi, bandLo: bandStpoPosLo,
    texts: [
        { x: 13.5, y: 418.5, parts: [['B', 0]], size: 17, bold: true },
        { x: 15, y: 571, parts: T1_MOOD, size: 18.5, rot: -Math.PI / 2 },
        { x: 211, y: 737, parts: [['t', 0], ['0', 1], [' ST-PO', 0]], size: 18.5 }
    ]
});
makePanel({
    box: { x: 207, y: 380, w: 189, h: 372 }, area: { l: 215, t: 451, r: 361.5, b: 691.3 },
    showY: false, xr: [-2.22, 3.75], yr: yBottom, xt: ticksX, strip: NEG,
    points: stpoNeg, fit: fitStpoNeg, bandX: bandStpoNegX, bandHi: bandStpoNegHi, bandLo: bandStpoNegLo
});

makePanel({
    box: { x: 396, y: 380, w: 396, h: 372 }, area: { l: 456.5, t: 451, r: 615.5, b: 691.3 },
    xr: [-2.23, 3.74], yr: yBottom, xt: ticksX, strip: POS,
    points: stfsPos, fit: fitStfsPos, bandX: bandStfsPosX, bandHi: bandStfsPosHi, bandLo: bandStfsPosLo,
    texts: [
        { x: 409.5, y: 418.5, parts: [['C', 0]], size: 17, bold: true },
        { x: 411, y: 571, parts: T1_MOOD, size: 18.5, rot: -Math.PI / 2 },
        { x: 620.7, y: 737, parts: [['t', 0], ['0', 1], [' ST-FS', 0]], size: 18.5 }
    ]
});
makePanel({
    box: { x: 617, y: 380, w: 175, h: 372 }, area: { l: 624.5, t: 451, r: 785, b: 691.3 },
    showY: false, xr: [-2.27, 3.75], yr: yBottom, xt: ticksX, strip: NEG,
    points: stfsNeg, fit: fitStfsNeg, bandX: bandStfsNegX, bandHi: bandStfsNegHi, bandLo: bandStfsNegLo
});
</script>
</body>
</html>
